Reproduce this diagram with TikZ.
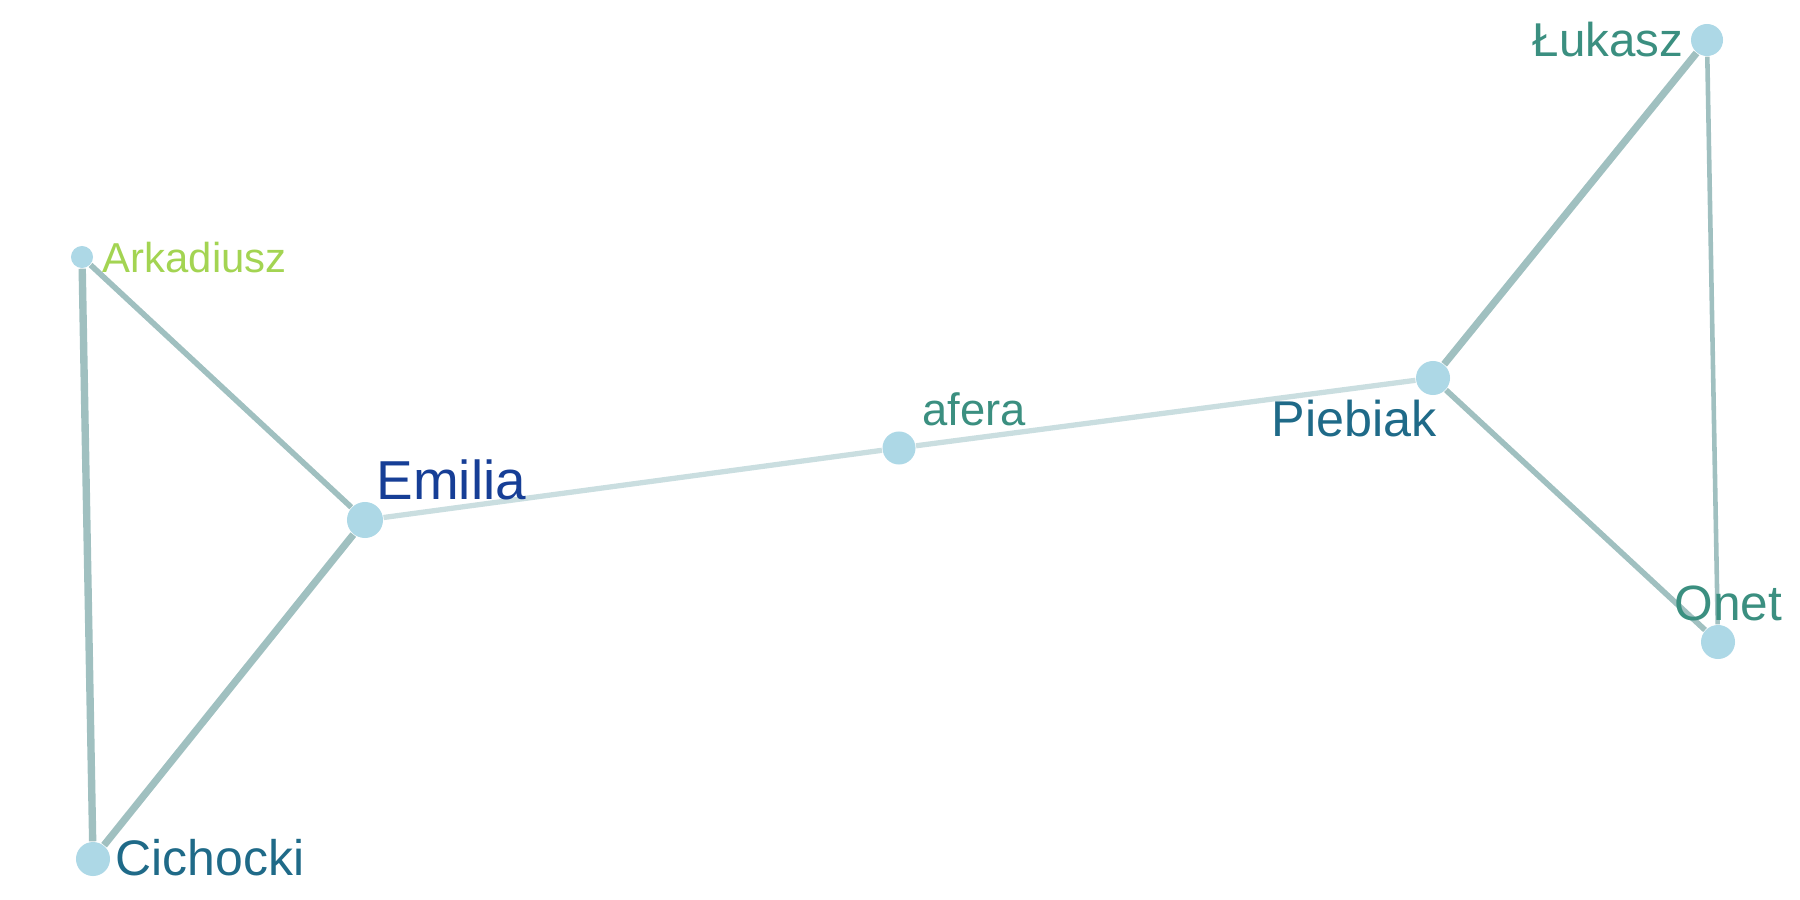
\documentclass[tikz,border=0pt]{standalone}
\usepackage{fontspec}
\setmainfont{Liberation Sans}
\usepackage{tikz}
\definecolor{nodeblue}{RGB}{173,216,230}
\definecolor{edgegray}{RGB}{160,192,192}
\definecolor{edgelight}{RGB}{202,222,224}
\definecolor{tealtxt}{RGB}{59,143,128}
\definecolor{greentxt}{RGB}{163,212,82}
\definecolor{darkblue}{RGB}{22,62,150}
\definecolor{petrol}{RGB}{31,106,136}

\begin{document}
\begin{tikzpicture}[x=0.01cm,y=-0.01cm,
  vert/.style={circle,fill=nodeblue,inner sep=0pt,minimum size=#1*0.02cm},
  lab/.style={anchor=base west,inner sep=0pt}]
\useasboundingbox (0,0) rectangle (1800,900);
\node[vert=16] (lukasz) at (1707,40) {};
\node[vert=11] (arkadiusz) at (82,257) {};
\node[vert=18] (emilia) at (365,520) {};
\node[vert=16.5] (afera) at (899,448) {};
\node[vert=17] (piebiak) at (1433,378) {};
\node[vert=17] (onet) at (1718,642) {};
\node[vert=17] (cichocki) at (93,859) {};
\draw[edgegray,line width=2.05pt] (lukasz)--(piebiak);
\draw[edgegray,line width=1.3pt] (lukasz)--(onet);
\draw[edgegray,line width=1.6pt] (piebiak)--(onet);
\draw[edgegray,line width=1.6pt] (arkadiusz)--(emilia);
\draw[edgegray,line width=2.1pt] (arkadiusz)--(cichocki);
\draw[edgegray,line width=2.05pt] (emilia)--(cichocki);
\draw[edgelight,line width=1.5pt] (emilia)--(afera);
\draw[edgelight,line width=1.5pt] (afera)--(piebiak);
\node[lab,tealtxt,font=\fontsize{13.5}{14}\selectfont] (tlukasz) at (1532,57) {Łukasz};
\node[lab,greentxt,font=\fontsize{11.9}{13}\selectfont] (tarkadiusz) at (102,272) {Arkadiusz};
\node[lab,darkblue,font=\fontsize{15.6}{18}\selectfont] (temilia) at (376,499) {Emilia};
\node[lab,tealtxt,font=\fontsize{12.9}{14}\selectfont] (tafera) at (922,425) {afera};
\node[lab,petrol,font=\fontsize{14.3}{15}\selectfont] (tpiebiak) at (1271,436) {Piebiak};
\node[lab,tealtxt,font=\fontsize{14.1}{16}\selectfont] (tonet) at (1674,620) {Onet};
\node[lab,petrol,font=\fontsize{14.2}{16}\selectfont] (tcichocki) at (115,875) {Cichocki};
\end{tikzpicture}
\end{document}
